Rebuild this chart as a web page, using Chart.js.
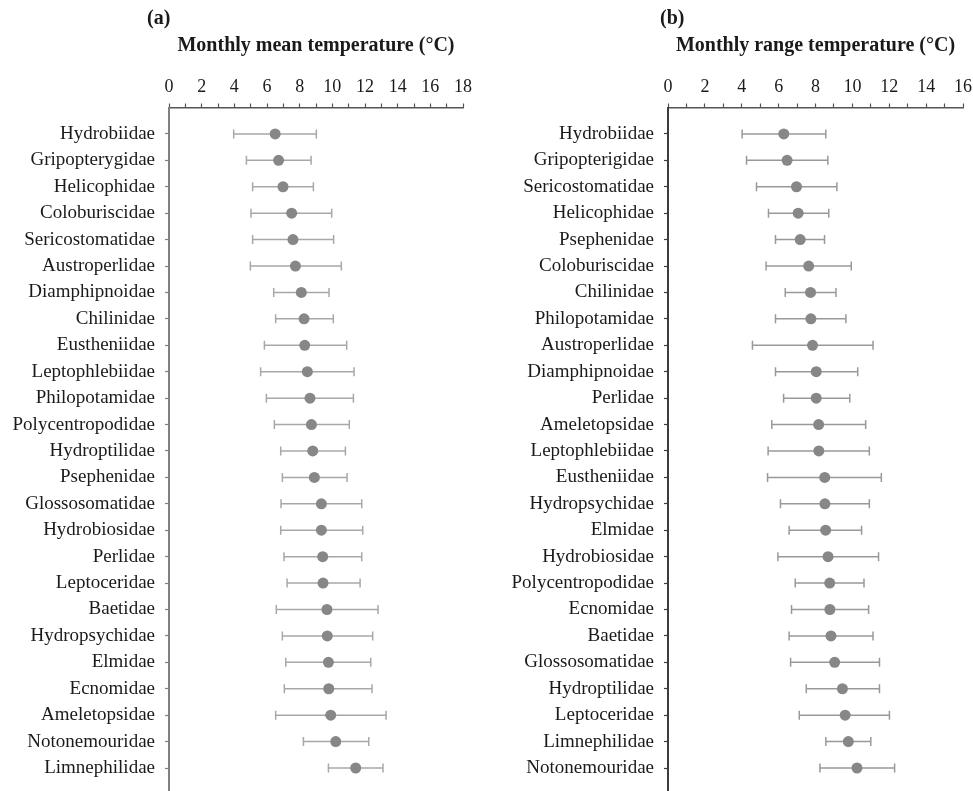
<!DOCTYPE html>
<html>
<head>
<meta charset="utf-8">
<script src="https://cdn.jsdelivr.net/npm/chart.js@4.4.1/dist/chart.umd.min.js"></script>
<style>
  html, body { margin: 0; padding: 0; background: #ffffff; }
  #wrap { position: relative; width: 973px; height: 791px; overflow: hidden; }
  #cA { position: absolute; left: 0; top: 0; }
  #cB { position: absolute; left: 486px; top: 0; }
</style>
</head>
<body>
<div id="wrap">
  <canvas id="cA" width="486" height="791"></canvas>
  <canvas id="cB" width="487" height="791"></canvas>
</div>
<script>
// ---------- Panel (a): monthly mean temperature ----------
const categoriesA = ['Hydrobiidae','Gripopterygidae','Helicophidae','Coloburiscidae','Sericostomatidae',
  'Austroperlidae','Diamphipnoidae','Chilinidae','Eustheniidae','Leptophlebiidae','Philopotamidae',
  'Polycentropodidae','Hydroptilidae','Psephenidae','Glossosomatidae','Hydrobiosidae','Perlidae',
  'Leptoceridae','Baetidae','Hydropsychidae','Elmidae','Ecnomidae','Ameletopsidae','Notonemouridae',
  'Limnephilidae'];
const meanA = [6.50, 6.71, 6.98, 7.51, 7.59, 7.74, 8.10, 8.27, 8.31, 8.47, 8.63, 8.72, 8.80, 8.90,
  9.33, 9.33, 9.41, 9.43, 9.67, 9.69, 9.76, 9.78, 9.90, 10.21, 11.43];
const lowA  = [3.96, 4.74, 5.12, 5.02, 5.12, 4.98, 6.41, 6.53, 5.84, 5.61, 5.96, 6.45, 6.84, 6.94,
  6.86, 6.84, 7.04, 7.23, 6.57, 6.94, 7.15, 7.06, 6.53, 8.23, 9.76];
const highA = [9.02, 8.70, 8.84, 9.96, 10.08, 10.55, 9.80, 10.06, 10.88, 11.33, 11.29, 11.04, 10.80, 10.90,
  11.80, 11.86, 11.80, 11.70, 12.80, 12.47, 12.35, 12.43, 13.29, 12.23, 13.10];
const xTickLabelsA = [0, 2, 4, 6, 8, 10, 12, 14, 16, 18];

// ---------- Panel (b): monthly range temperature ----------
const categoriesB = ['Hydrobiidae','Gripopterigidae','Sericostomatidae','Helicophidae','Psephenidae',
  'Coloburiscidae','Chilinidae','Philopotamidae','Austroperlidae','Diamphipnoidae','Perlidae',
  'Ameletopsidae','Leptophlebiidae','Eustheniidae','Hydropsychidae','Elmidae','Hydrobiosidae',
  'Polycentropodidae','Ecnomidae','Baetidae','Glossosomatidae','Hydroptilidae','Leptoceridae',
  'Limnephilidae','Notonemouridae'];
const meanB = [6.28, 6.46, 6.97, 7.06, 7.17, 7.63, 7.73, 7.75, 7.84, 8.04, 8.04, 8.17, 8.18, 8.50,
  8.51, 8.55, 8.68, 8.77, 8.78, 8.84, 9.04, 9.46, 9.61, 9.78, 10.25];
const lowB  = [4.02, 4.26, 4.80, 5.45, 5.83, 5.32, 6.36, 5.83, 4.58, 5.83, 6.27, 5.63, 5.43, 5.40,
  6.10, 6.57, 5.96, 6.90, 6.70, 6.57, 6.65, 7.50, 7.12, 8.56, 8.24];
const highB = [8.56, 8.67, 9.16, 8.72, 8.49, 9.94, 9.11, 9.65, 11.12, 10.29, 9.86, 10.72, 10.92, 11.57,
  10.92, 10.50, 11.42, 10.63, 10.88, 11.12, 11.47, 11.47, 12.01, 11.00, 12.29];
const xTickLabelsB = [0, 2, 4, 6, 8, 10, 12, 14, 16];

const SERIF = "'Liberation Serif', 'Times New Roman', serif";

const panelLabel = {
  id: 'panelLabel',
  afterDraw(chart, args, opts) {
    const ctx = chart.ctx;
    ctx.save();
    ctx.font = 'bold 20px ' + SERIF;
    ctx.fillStyle = '#1a1a1a';
    ctx.textBaseline = 'middle';
    ctx.textAlign = 'left';
    ctx.fillText(opts.text, chart.chartArea.left + opts.dx, opts.y);
    ctx.restore();
  }
};

function buildChart(canvasId, cfg) {
  const n = cfg.categories.length;
  const whisker = [];
  const caps = [];
  for (let i = 0; i < n; i++) {
    whisker.push({x: cfg.low[i], y: i}, {x: cfg.high[i], y: i}, {x: NaN, y: NaN});
    caps.push({x: cfg.low[i], y: i}, {x: cfg.high[i], y: i});
  }
  const means = cfg.mean.map((v, i) => ({x: v, y: i}));
  const xMax = cfg.xLabels[cfg.xLabels.length - 1];

  return new Chart(document.getElementById(canvasId), {
    type: 'scatter',
    data: {
      datasets: [
        { label: 'mean', data: means, pointRadius: 5.5, pointHoverRadius: 5.5,
          backgroundColor: '#878787', borderWidth: 0, pointBorderWidth: 0 },
        { label: 'caps', data: caps, pointStyle: 'line', rotation: 90, pointRadius: 4.5,
          pointHoverRadius: 4.5, borderColor: cfg.whiskerColor, pointBorderColor: cfg.whiskerColor,
          pointBorderWidth: 1.5, borderWidth: 1.5 },
        { label: 'range', type: 'line', data: whisker, showLine: true, spanGaps: false,
          borderColor: cfg.whiskerColor, borderWidth: 1.5, pointRadius: 0, fill: false, tension: 0 }
      ]
    },
    options: {
      responsive: false,
      animation: false,
      events: [],
      layout: { autoPadding: false, padding: { top: 0, bottom: 0, left: 0, right: cfg.padRight } },
      plugins: {
        legend: { display: false },
        tooltip: { enabled: false },
        title: {
          display: true, text: cfg.title, fullSize: false, align: 'center',
          color: '#1a1a1a', font: { family: SERIF, size: 20, weight: 'bold', lineHeight: 1.2 },
          padding: { top: 34, bottom: 13.9 }
        },
        panelLabel: { text: cfg.panel, dx: cfg.panelDx, y: 19 }
      },
      scales: {
        x: {
          type: 'linear', position: 'top', min: 0, max: xMax,
          afterBuildTicks: (s) => {
            const t = [];
            for (let v = 0; v <= xMax; v++) t.push({ value: v });
            s.ticks = t;
          },
          afterFit: (s) => { s.paddingLeft = 0; s.paddingRight = 0; },
          ticks: {
            autoSkip: false, maxRotation: 0, padding: 5, color: '#1a1a1a',
            font: { family: SERIF, size: 18 },
            callback: (v) => cfg.xLabels.includes(v) ? String(v) : ''
          },
          grid: { drawOnChartArea: false, drawTicks: true, tickLength: 4,
                  tickColor: '#555555', tickWidth: 1.2 },
          border: { display: true, color: '#555555', width: 1.5 }
        },
        y: {
          type: 'linear', reverse: true, min: -1, max: 24.87,
          afterBuildTicks: (s) => { s.ticks = cfg.categories.map((_, i) => ({ value: i })); },
          afterFit: (s) => { s.width = cfg.yWidth; s.paddingTop = 0; s.paddingBottom = 0; },
          ticks: {
            autoSkip: false, padding: 10, color: '#1a1a1a',
            font: { family: SERIF, size: 19 },
            callback: (v) => cfg.categories[v] !== undefined ? cfg.categories[v] : ''
          },
          grid: { drawOnChartArea: false, drawTicks: true, tickLength: 4,
                  tickColor: cfg.yAxisColor, tickWidth: 1.2 },
          border: { display: true, color: cfg.yAxisColor, width: 2 }
        }
      }
    },
    plugins: [panelLabel]
  });
}

buildChart('cA', {
  categories: categoriesA, mean: meanA, low: lowA, high: highA, xLabels: xTickLabelsA,
  title: 'Monthly mean temperature (°C)', panel: '(a)', panelDx: -22,
  yWidth: 169, padRight: 23, whiskerColor: '#a8a8a8', yAxisColor: '#808080'
});
buildChart('cB', {
  categories: categoriesB, mean: meanB, low: lowB, high: highB, xLabels: xTickLabelsB,
  title: 'Monthly range temperature (°C)', panel: '(b)', panelDx: -8,
  yWidth: 182, padRight: 10, whiskerColor: '#999999', yAxisColor: '#3c3c3c'
});
</script>
</body>
</html>
